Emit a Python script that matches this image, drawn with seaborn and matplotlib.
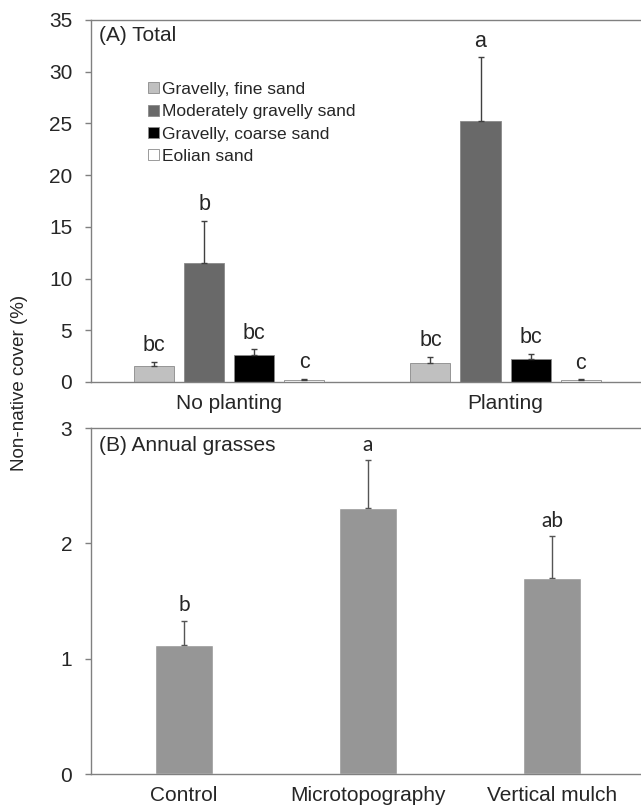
import matplotlib
matplotlib.use('Agg')
import matplotlib.pyplot as plt
import numpy as np
import pandas as pd
import seaborn as sns

# Panel A data
treatments = ['No planting', 'Planting']
soils = ['Gravelly, fine sand', 'Moderately gravelly sand', 'Gravelly, coarse sand', 'Eolian sand']
cover_no_planting = [1.55, 11.55, 2.6, 0.2]
cover_planting = [1.88, 25.2, 2.22, 0.16]
err_no_planting = [0.38, 4.0, 0.56, 0.1]
err_planting = [0.54, 6.2, 0.52, 0.08]
letters_no_planting = ['bc', 'b', 'bc', 'c']
letters_planting = ['bc', 'a', 'bc', 'c']

# Panel B data
methods = ['Control', 'Microtopography', 'Vertical mulch']
grass_cover = [1.12, 2.31, 1.70]
grass_err = [0.21, 0.41, 0.36]
grass_letters = ['b', 'a', 'ab']

soil_colors = ['#c0c0c0', '#696969', '#000000', '#ffffff']

sns.set_theme(style='white')
plt.rcParams['font.family'] = ['Liberation Sans', 'DejaVu Sans']

fig = plt.figure(figsize=(6.41, 8.05), dpi=100)
ax1 = fig.add_axes([0.142, 0.5255, 0.858, 0.4497])
ax2 = fig.add_axes([0.142, 0.0385, 0.858, 0.4298])

# ---- Panel A
df_a = pd.DataFrame({
    'treatment': np.repeat(treatments, len(soils)),
    'soil': soils * 2,
    'cover': cover_no_planting + cover_planting,
})
sns.barplot(data=df_a, x='treatment', y='cover', hue='soil', hue_order=soils,
            palette=soil_colors, width=0.725, gap=0.2, errorbar=None,
            edgecolor='#8a8a8a', linewidth=0.6, ax=ax1)

all_err = [err_no_planting, err_planting]
all_letters = [letters_no_planting, letters_planting]
all_vals = [cover_no_planting, cover_planting]
bar_containers = list(ax1.containers)
for c, container in enumerate(bar_containers):
    for t, patch in enumerate(container.patches):
        xc = patch.get_x() + patch.get_width() / 2
        val = all_vals[t][c]
        e = all_err[t][c]
        ax1.errorbar(xc, val, yerr=[[0], [e]], fmt='none', ecolor='#404040',
                     elinewidth=1.0, capsize=2, capthick=1.0)
        ax1.text(xc, val + e + 0.55, all_letters[t][c], ha='center', va='bottom', fontsize=15.5)

ax1.set_xlim(-0.5, 1.49)
ax1.set_ylim(0, 35)
ax1.set_yticks(range(0, 36, 5))
ax1.set_xlabel('')
ax1.set_ylabel('')
ax1.text(0.0145, 0.982, '(A) Total', transform=ax1.transAxes, ha='left', va='top', fontsize=15)
leg = ax1.legend(loc='upper left', bbox_to_anchor=(0.082, 0.862), frameon=False, fontsize=12.5,
                 handlelength=0.6, handleheight=0.6, handletextpad=0.2, labelspacing=0.42,
                 borderpad=0.2)

# ---- Panel B
df_b = pd.DataFrame({'method': methods, 'cover': grass_cover})
sns.barplot(data=df_b, x='method', y='cover', color='#969696', saturation=1,
            width=0.315, errorbar=None, ax=ax2)
for i, (v, e, l) in enumerate(zip(grass_cover, grass_err, grass_letters)):
    ax2.errorbar(i, v, yerr=[[0], [e]], fmt='none', ecolor='#555555',
                 elinewidth=1.0, capsize=2, capthick=1.0)
    ax2.text(i, v + e + 0.05, l, ha='center', va='bottom', fontsize=15,
             family=['Lato', 'DejaVu Sans'])
ax2.set_xlim(-0.505, 2.484)
ax2.set_ylim(0, 3)
ax2.set_yticks([0, 1, 2, 3])
ax2.set_xlabel('')
ax2.set_ylabel('')
ax2.text(0.0145, 0.976, '(B) Annual grasses', transform=ax2.transAxes, ha='left', va='top', fontsize=15)

for ax in (ax1, ax2):
    for side in ('left', 'bottom', 'top'):
        ax.spines[side].set_color('#808080')
        ax.spines[side].set_linewidth(1.0)
    ax.spines['right'].set_visible(False)
    ax.tick_params(axis='y', left=True, length=4.5, width=1.0, color='#808080',
                   labelsize=15, pad=9)
    ax.tick_params(axis='x', bottom=False, length=0, labelsize=15, pad=8.5)

fig.text(0.03, 0.524, 'Non-native cover (%)', rotation=90, ha='center', va='center', fontsize=13.5)

fig.savefig('out.png', dpi=100)
